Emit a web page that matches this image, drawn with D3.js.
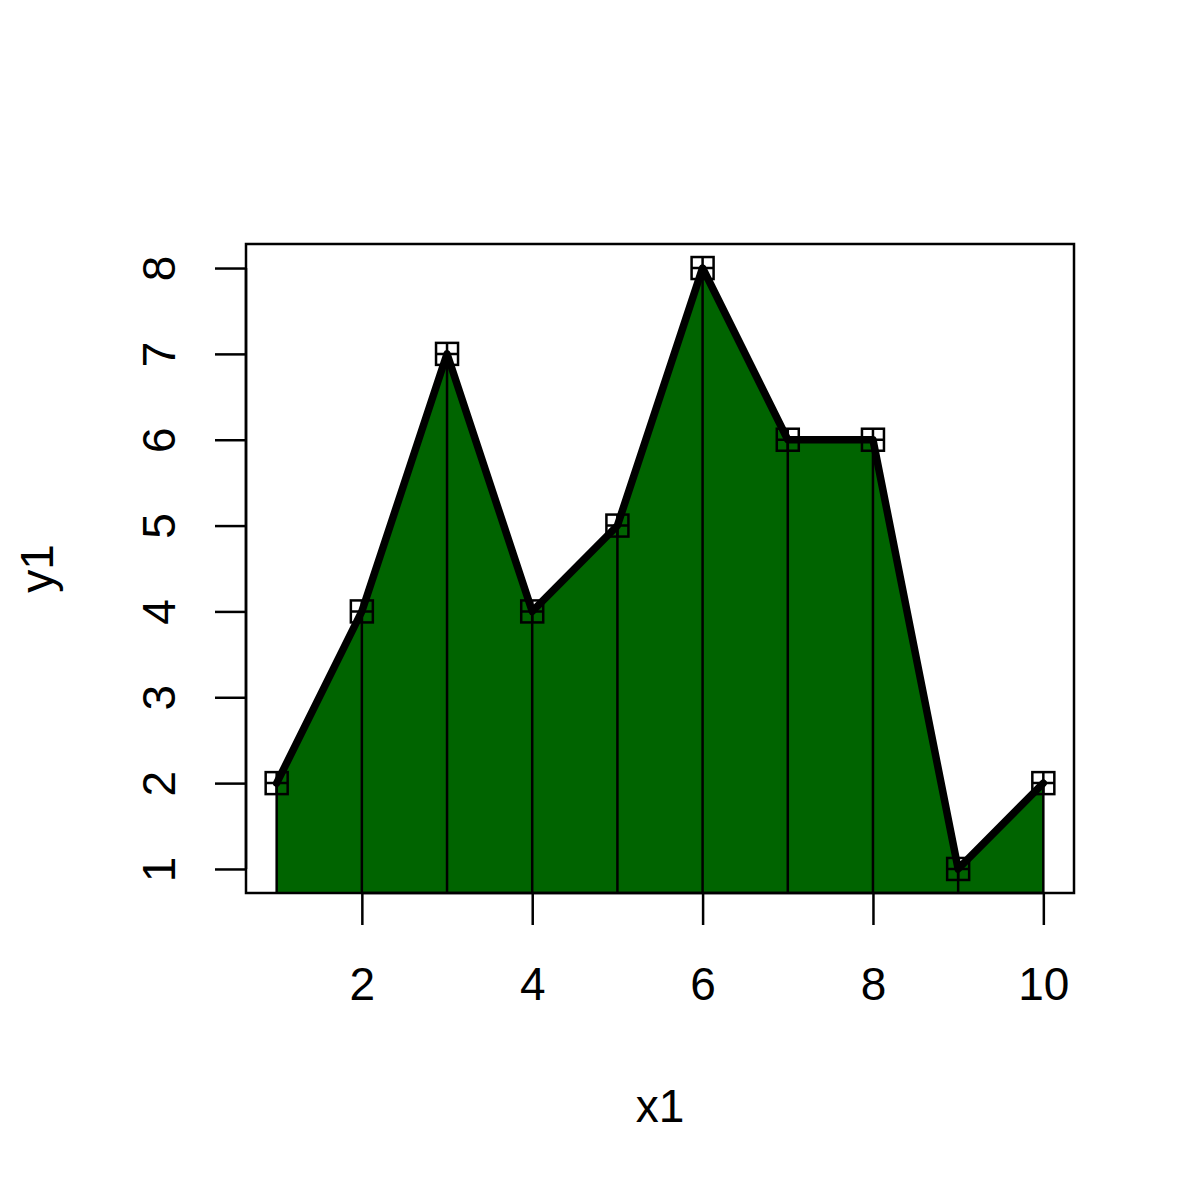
<!DOCTYPE html>
<html>
<head>
<meta charset="utf-8">
<script src="https://cdn.jsdelivr.net/npm/d3@7"></script>
<style>
  body { margin: 0; background: white; }
  text { font-family: "Liberation Sans", Arial, sans-serif; fill: black; }
</style>
</head>
<body>
<svg id="chart" width="1200" height="1200"></svg>
<script>
// data
var x1 = [1, 2, 3, 4, 5, 6, 7, 8, 9, 10];
var y1 = [2, 4, 7, 4, 5, 8, 6, 6, 1, 2];
var xTicks = [2, 4, 6, 8, 10];
var yTicks = [1, 2, 3, 4, 5, 6, 7, 8];

var svg = d3.select("#chart");
var boxL = 246, boxR = 1074, boxT = 244, boxB = 893;

// R style 4% padding on the ranges
var x = d3.scaleLinear().domain([0.64, 10.36]).range([boxL, boxR]);
var y = d3.scaleLinear().domain([0.72, 8.28]).range([boxB, boxT]);

var pts = x1.map((d, i) => ({x: d, y: y1[i]}));

svg.append("clipPath").attr("id", "plotclip")
    .append("rect")
    .attr("x", boxL).attr("y", boxT)
    .attr("width", boxR - boxL).attr("height", boxB - boxT);

var plot = svg.append("g").attr("clip-path", "url(#plotclip)");

//filled area under the line
var area = d3.area()
    .x(d => x(d.x))
    .y0(boxB)
    .y1(d => y(d.y));
plot.append("path")
    .datum(pts)
    .attr("d", area)
    .attr("fill", "#006400")
    .attr("stroke", "none");

//vertical "h" lines
plot.selectAll(".hline")
    .data(pts).enter()
    .append("line")
    .attr("class", "hline")
    .attr("x1", d => x(d.x))
    .attr("x2", d => x(d.x))
    .attr("y1", d => y(d.y))
    .attr("y2", boxB + 5)
    .attr("stroke", "black")
    .attr("stroke-width", 2.5);

//thick line
plot.append("path")
    .datum(pts)
    .attr("d", d3.line().x(d => x(d.x)).y(d => y(d.y)))
    .attr("fill", "none")
    .attr("stroke", "black")
    .attr("stroke-width", 7.5)
    .attr("stroke-linejoin", "round")
    .attr("stroke-linecap", "round");

//square-plus points
var s = 11;
var pg = svg.selectAll(".pt")
    .data(pts).enter()
    .append("g")
    .attr("class", "pt")
    .attr("transform", d => "translate(" + x(d.x) + "," + y(d.y) + ")");
pg.append("rect")
    .attr("x", -s).attr("y", -s)
    .attr("width", 2 * s).attr("height", 2 * s)
    .attr("fill", "none")
    .attr("stroke", "black")
    .attr("stroke-width", 2.5);
pg.append("path")
    .attr("d", "M" + (-s) + ",0H" + s + "M0," + (-s) + "V" + s)
    .attr("fill", "none")
    .attr("stroke", "black")
    .attr("stroke-width", 2.5);

//box
svg.append("rect")
    .attr("x", boxL).attr("y", boxT)
    .attr("width", boxR - boxL).attr("height", boxB - boxT)
    .attr("fill", "none")
    .attr("stroke", "black")
    .attr("stroke-width", 2.5);

//x axis
var xAxis = svg.append("g")
    .attr("transform", "translate(0," + boxB + ")")
    .call(d3.axisBottom(x).tickValues(xTicks).tickSize(32).tickPadding(42).tickFormat(d3.format("d")));
xAxis.select(".domain")
    .attr("d", "M" + x(xTicks[0]) + ",0H" + x(xTicks[xTicks.length - 1]))
    .attr("stroke-width", 2.5);
xAxis.selectAll(".tick line").attr("stroke-width", 2.5);
xAxis.selectAll("text")
    .attr("font-size", 46)
    .attr("font-family", "Liberation Sans, Arial, sans-serif");

//y axis
var yAxis = svg.append("g")
    .attr("transform", "translate(" + boxL + ",0)")
    .call(d3.axisLeft(y).tickValues(yTicks).tickSize(31).tickFormat(d3.format("d")));
yAxis.select(".domain")
    .attr("d", "M0," + y(yTicks[0]) + "V" + y(yTicks[yTicks.length - 1]))
    .attr("stroke-width", 2.5);
yAxis.selectAll(".tick line").attr("stroke-width", 2.5);
yAxis.selectAll("text")
    .attr("font-size", 46)
    .attr("font-family", "Liberation Sans, Arial, sans-serif")
    .attr("x", null).attr("dy", null)
    .attr("text-anchor", "middle")
    .attr("transform", "translate(-71,0) rotate(-90)");

//axis titles
svg.append("text")
    .attr("x", (boxL + boxR) / 2)
    .attr("y", 1122)
    .attr("text-anchor", "middle")
    .attr("font-size", 46)
    .text("x1");
svg.append("text")
    .attr("transform", "translate(53," + (boxT + boxB) / 2 + ") rotate(-90)")
    .attr("text-anchor", "middle")
    .attr("font-size", 46)
    .text("y1");
</script>
</body>
</html>
